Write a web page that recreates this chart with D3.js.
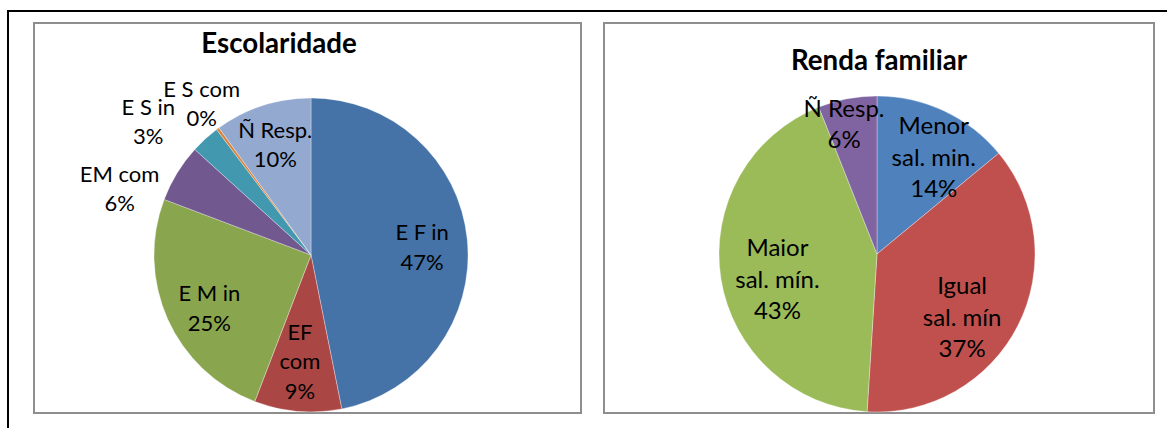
<!DOCTYPE html>
<html>
<head>
<meta charset="utf-8">
<script src="https://cdn.jsdelivr.net/npm/d3@7"></script>
<style>
  html, body { margin: 0; padding: 0; background: #fff; }
  svg { display: block; }
  text { font-family: Lato, "Open Sans", sans-serif; fill: #000; }
</style>
</head>
<body>
<svg id="chart" width="1167" height="428"></svg>
<script>
// Escolaridade (share of respondents by schooling level)
const escCategories = ["E F in", "EF com", "E M in", "EM com", "E S in", "E S com", "Ñ Resp."];
const escLabelLines = [["E F in"], ["EF", "com"], ["E M in"], ["EM com"], ["E S in"], ["E S com"], ["Ñ Resp."]];
const escValues = [47, 9, 25, 6, 3, 0.3, 10];
const escColors = ["#4572A7", "#AA4643", "#89A54E", "#71588F", "#4198AF", "#DB843D", "#93A9CF"];

// Renda familiar (family income relative to the minimum wage)
const rendaCategories = ["Menor sal. min.", "Igual sal. mín", "Maior sal. mín.", "Ñ Resp."];
const rendaLabelLines = [["Menor", "sal. min."], ["Igual", "sal. mín"], ["Maior", "sal. mín."], ["Ñ Resp."]];
const rendaValues = [14, 37, 43, 6];
const rendaColors = ["#4F81BD", "#C0504D", "#9BBB59", "#8064A2"];

const svg = d3.select("#chart");
const pct = d3.format(".0%");

// page frame
svg.append("rect")
  .attr("x", 8).attr("y", 11)
  .attr("width", 1200).attr("height", 460)
  .attr("fill", "none").attr("stroke", "#000").attr("stroke-width", 2);

function drawPie(opts) {
  const g = svg.append("g");

  // chart area border
  g.append("rect")
    .attr("x", opts.box[0]).attr("y", opts.box[1])
    .attr("width", opts.box[2]).attr("height", opts.box[3])
    .attr("fill", "#fff").attr("stroke", "#8e8e8e").attr("stroke-width", 2);

  g.append("text")
    .attr("x", opts.titleX).attr("y", opts.titleY)
    .attr("text-anchor", "middle")
    .attr("font-weight", "bold")
    .attr("font-size", opts.titleSize)
    .text(opts.title);

  const color = d3.scaleOrdinal().domain(opts.categories).range(opts.colors);
  const total = d3.sum(opts.values);
  const data = opts.categories.map((c, i) => ({ cat: c, value: opts.values[i], lines: opts.lines[i], i }));

  const pie = d3.pie().value(d => d.value).sort(null);
  const arcs = pie(data);
  const arc = d3.arc().innerRadius(0).outerRadius(opts.r);

  const pg = g.append("g").attr("transform", `translate(${opts.cx},${opts.cy})`);
  pg.selectAll("path.slice")
    .data(arcs)
    .join("path")
    .attr("class", "slice")
    .attr("d", arc)
    .attr("fill", d => color(d.data.cat))
    .attr("stroke", "rgba(255,255,255,0.55)")
    .attr("stroke-width", 0.6);

  // data labels: category name plus rounded share
  const lab = pg.selectAll("text.lab")
    .data(arcs)
    .join("text")
    .attr("class", "lab")
    .attr("text-anchor", "middle")
    .attr("font-size", opts.labelSize);

  lab.each(function (d) {
    const place = opts.labelPlace[d.data.i];
    const a = (d.startAngle + d.endAngle) / 2 + place.shift * Math.PI / 180;
    const rr = opts.r * place.k;
    const x = Math.sin(a) * rr;
    const y = -Math.cos(a) * rr;
    const lines = d.data.lines.concat([pct(d.data.value / total)]);
    const n = lines.length;
    const t = d3.select(this);
    lines.forEach((ln, j) => {
      t.append("tspan")
        .attr("x", x)
        .attr("y", y + (j - (n - 1) / 2) * opts.lineGap + opts.labelSize * 0.36)
        .text(ln);
    });
  });
}

drawPie({
  title: "Escolaridade",
  categories: escCategories, values: escValues, colors: escColors, lines: escLabelLines,
  box: [34, 23, 547, 390],
  titleX: 279, titleY: 53, titleSize: 27.7,
  cx: 311, cy: 255, r: 157,
  labelSize: 22, lineGap: 29.5,
  labelPlace: [
    { shift: 1.5, k: 0.71 },
    { shift: 1.1, k: 0.68 },
    { shift: -3.4, k: 0.73 },
    { shift: -12.4, k: 1.29 },
    { shift: -8.3, k: 1.34 },
    { shift: 0.6, k: 1.19 },
    { shift: 0, k: 0.74 }
  ]
});

drawPie({
  title: "Renda familiar",
  categories: rendaCategories, values: rendaValues, colors: rendaColors, lines: rendaLabelLines,
  box: [604, 23, 550, 390],
  titleX: 879, titleY: 70, titleSize: 27.7,
  cx: 877, cy: 254, r: 158,
  labelSize: 24, lineGap: 31.5,
  labelPlace: [
    { shift: 5.2, k: 0.71 },
    { shift: 9.5, k: 0.67 },
    { shift: -5.2, k: 0.65 },
    { shift: -3.4, k: 0.85 }
  ]
});
</script>
</body>
</html>
